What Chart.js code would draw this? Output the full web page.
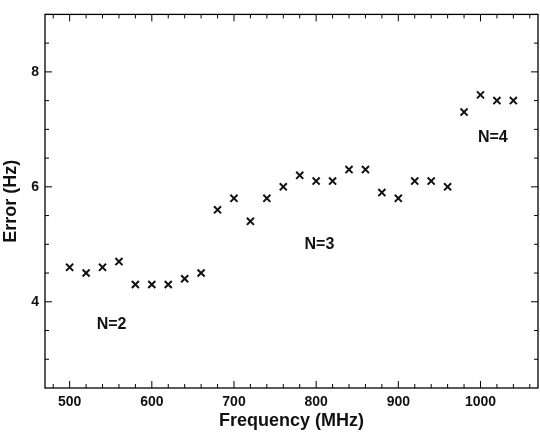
<!DOCTYPE html>
<html>
<head>
<meta charset="utf-8">
<script src="https://cdn.jsdelivr.net/npm/chart.js@4"></script>
<style>
  html, body { margin: 0; padding: 0; background: #fff; }
  #wrap { width: 540px; height: 432px; }
</style>
</head>
<body>
<div id="wrap"><canvas id="errChart"></canvas></div>
<script>
const freqs = [500, 520, 540, 560, 580, 600, 620, 640, 660, 680, 700, 720, 740, 760,
               780, 800, 820, 840, 860, 880, 900, 920, 940, 960, 980, 1000, 1020, 1040];
const errors = [4.6, 4.5, 4.6, 4.7, 4.3, 4.3, 4.3, 4.4, 4.5, 5.6, 5.8, 5.4, 5.8, 6.0,
                6.2, 6.1, 6.1, 6.3, 6.3, 5.9, 5.8, 6.1, 6.1, 6.0, 7.3, 7.6, 7.5, 7.5];
const xTicks = [500, 600, 700, 800, 900, 1000];
const yTicks = [4, 6, 8];
const regionLabels = [
    { text: 'N=2', x: 551, y: 3.6 },
    { text: 'N=3', x: 804, y: 4.99 },
    { text: 'N=4', x: 1015, y: 6.86 }
];

const FONT = 'Liberation Sans, Arial, sans-serif';

const frameTicks = {
    id: 'frameTicks',
    afterDraw(chart) {
        const { ctx, chartArea: a, scales: { x, y } } = chart;
        ctx.save();
        ctx.strokeStyle = '#000';
        ctx.lineWidth = 1.3;
        ctx.strokeRect(a.left, a.top, a.right - a.left, a.bottom - a.top);
        ctx.lineWidth = 1;
        ctx.beginPath();
        for (let v = 480; v <= 1060; v += 20) {
            const px = x.getPixelForValue(v);
            if (px < a.left || px > a.right) continue;
            const len = v % 100 === 0 ? 7 : 4;
            ctx.moveTo(px, a.bottom); ctx.lineTo(px, a.bottom - len);
            ctx.moveTo(px, a.top); ctx.lineTo(px, a.top + len);
        }
        for (let v = 3; v <= 9; v += 0.5) {
            const py = y.getPixelForValue(v);
            if (py < a.top || py > a.bottom) continue;
            const len = v % 2 === 0 ? 7 : 4;
            ctx.moveTo(a.left, py); ctx.lineTo(a.left + len, py);
            ctx.moveTo(a.right, py); ctx.lineTo(a.right - len, py);
        }
        ctx.stroke();

        ctx.fillStyle = '#111';
        ctx.font = 'bold 16px ' + FONT;
        ctx.textAlign = 'center';
        ctx.textBaseline = 'middle';
        regionLabels.forEach(l => {
            ctx.fillText(l.text, x.getPixelForValue(l.x), y.getPixelForValue(l.y));
        });
        ctx.restore();
    }
};

new Chart(document.getElementById('errChart'), {
    type: 'scatter',
    data: {
        datasets: [{
            data: freqs.map((f, i) => ({ x: f, y: errors[i] })),
            pointStyle: 'crossRot',
            pointRadius: 5,
            borderColor: '#111',
            borderWidth: 2,
            backgroundColor: '#111'
        }]
    },
    options: {
        responsive: true,
        maintainAspectRatio: false,
        animation: false,
        layout: { autoPadding: false, padding: { top: 13, right: 2, left: 0, bottom: 0 } },
        plugins: { legend: { display: false }, tooltip: { enabled: false } },
        scales: {
            x: {
                type: 'linear',
                min: 470,
                max: 1070,
                afterBuildTicks: s => { s.ticks = xTicks.map(v => ({ value: v })); },
                afterFit: s => { s.height = 44; },
                grid: { display: false, drawTicks: false },
                border: { display: false },
                ticks: { color: '#111', padding: 6, maxRotation: 0, callback: v => String(v),
                         font: { family: FONT, size: 14, weight: 'bold' } },
                title: { display: true, text: 'Frequency (MHz)', color: '#111', padding: { top: 2, bottom: 0 },
                         font: { family: FONT, size: 18, weight: 'bold' } }
            },
            y: {
                min: 2.5,
                max: 9.0,
                afterBuildTicks: s => { s.ticks = yTicks.map(v => ({ value: v })); },
                afterFit: s => { s.width = 45; },
                grid: { display: false, drawTicks: false },
                border: { display: false },
                ticks: { color: '#111', padding: 6, font: { family: FONT, size: 14, weight: 'bold' } },
                title: { display: true, text: 'Error (Hz)', color: '#111', padding: { top: 0, bottom: 0 },
                         font: { family: FONT, size: 18, weight: 'bold' } }
            }
        }
    },
    plugins: [frameTicks]
});
</script>
</body>
</html>
